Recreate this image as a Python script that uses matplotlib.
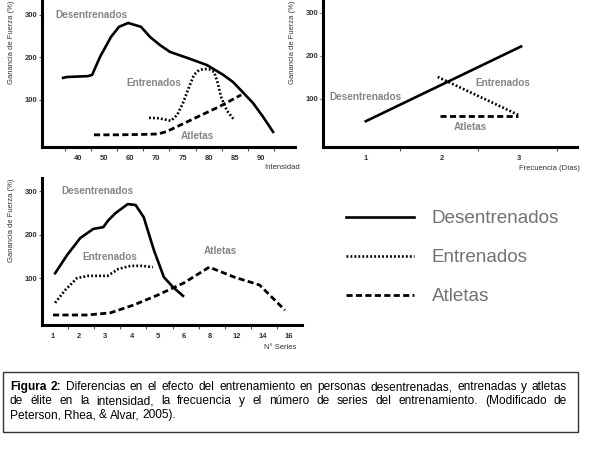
import matplotlib
matplotlib.use('Agg')
import matplotlib.pyplot as plt
from matplotlib.patches import Rectangle

plt.rcParams['font.family'] = ['Liberation Sans', 'DejaVu Sans']

# --- panel 1: intensidad (x = category index) ---
int_labels = ['40', '50', '60', '70', '75', '80', '85', '90']
int_des_x = [-0.57, -0.42, 0.38, 0.54, 0.84, 1.26, 1.57, 1.92, 2.41, 2.76, 3.14, 3.52, 4.18, 4.94, 5.56, 5.94, 6.7, 7.09, 7.47]
int_des_y = [152, 154, 156, 159, 201, 248, 272, 281, 272, 248, 229, 213, 199, 182, 159, 142, 93, 60, 25]
int_ent_x = [2.72, 3.1, 3.56, 3.8, 4.02, 4.25, 4.44, 4.63, 4.83, 5.02, 5.21, 5.35, 5.48, 5.7, 5.98]
int_ent_y = [58, 57, 51, 65, 93, 130, 159, 170, 173, 172, 166, 140, 107, 75, 53]
int_atl_x = [0.61, 1.5, 2.5, 3.07, 3.4, 3.68, 4.5, 5.4, 6.25]
int_atl_y = [18, 18, 19, 20, 26, 34, 58, 84, 112]

# --- panel 2: frecuencia ---
frec_labels = ['1', '2', '3']
frec_des_x = [1.0, 3.03]
frec_des_y = [48, 222]
frec_ent_x = [1.94, 2.99]
frec_ent_y = [151, 63]
frec_atl_x = [1.97, 2.99]
frec_atl_y = [60, 60]

# --- panel 3: numero de series (x = category index) ---
ser_labels = ['1', '2', '3', '4', '5', '6', '8', '12', '14', '16']
ser_des_x = [0.08, 0.54, 1.04, 1.54, 1.92, 2.1, 2.38, 2.85, 3.15, 3.46, 3.85, 4.23, 4.58, 4.96]
ser_des_y = [111, 153, 192, 213, 217, 232, 249, 270, 268, 240, 164, 102, 79, 59]
ser_ent_x = [0.08, 0.46, 0.92, 1.35, 2.08, 2.5, 2.96, 3.4, 3.81]
ser_ent_y = [43, 72, 100, 105, 105, 121, 128, 128, 125]
ser_atl_x = [0, 1.31, 2.19, 3.08, 4.0, 5.0, 5.96, 6.92, 7.88, 8.35, 8.85]
ser_atl_y = [15, 15, 20, 38, 61, 89, 125, 102, 84, 56, 26]

y_ticks = [100, 200, 300]
series_names = ['Desentrenados', 'Entrenados', 'Atletas']

caption_lines = [
    'Figura 2: Diferencias en el efecto del entrenamiento en personas desentrenadas, entrenadas y atletas',
    'de élite en la intensidad, la frecuencia y el número de series del entrenamiento. (Modificado de',
    'Peterson, Rhea, & Alvar, 2005).',
]

GRAY = '#858585'
styles = [dict(color='black', lw=1.9, ls='-'),
          dict(color='black', lw=1.9, ls=(0, (0.7, 0.8))),
          dict(color='black', lw=2.0, ls=(0, (2.2, 1.2)))]

fig = plt.figure(figsize=(6.09, 4.51), dpi=100)


def setup(ax, xlim, ylim, xlabels, xlabel_pos, minor_pos, xtitle, xtitle_pos):
    ax.set_xlim(*xlim)
    ax.set_ylim(*ylim)
    for s in ['top', 'right']:
        ax.spines[s].set_visible(False)
    for s in ['left', 'bottom']:
        ax.spines[s].set_linewidth(2.2)
    ax.set_yticks(y_ticks)
    ax.set_yticklabels([str(v) for v in y_ticks], fontsize=5.5, color='#333333', fontweight='bold')
    ax.tick_params(axis='y', length=2.5, width=0.8, pad=1, color='#555555')
    ax.set_xticks(xlabel_pos)
    ax.set_xticklabels(xlabels, fontsize=5.5, color='#333333', fontweight='bold')
    ax.tick_params(axis='x', which='major', length=0, pad=6)
    ax.set_xticks(minor_pos, minor=True)
    ax.tick_params(axis='x', which='minor', length=3, width=0.8, color='#555555')
    ax.set_ylabel('Ganancia de Fuerza (%)', fontsize=5.5, color='#333333')
    ax.yaxis.set_label_coords(-0.105, 0.71)
    ax.text(xtitle_pos[0], xtitle_pos[1], xtitle, transform=ax.transAxes,
            ha='right', va='center', fontsize=5.5, color='#333333')


def names(ax, positions):
    for name, (x, y) in zip(series_names, positions):
        ax.text(x, y, name, ha='center', va='center', fontsize=7.2,
                fontweight='bold', color=GRAY)


# panel 1
ax1 = fig.add_axes([42 / 609, 1 - 147 / 451, 253 / 609, 147 / 451])
h = []
for (xs, ys), st in zip([(int_des_x, int_des_y), (int_ent_x, int_ent_y), (int_atl_x, int_atl_y)], styles):
    h.append(ax1.plot(xs, ys, **st)[0])
setup(ax1, (-1.38, 8.31), (-10.6, 335), int_labels, list(range(len(int_labels))),
      [i + 0.5 for i in range(-1, 8)], 'Intensidad', (1.02, -0.14))
names(ax1, [(0.5, 300), (2.9, 140), (4.56, 15)])

# panel 2
ax2 = fig.add_axes([323 / 609, 1 - 147 / 451, 254 / 609, 147 / 451])
for (xs, ys), st in zip([(frec_des_x, frec_des_y), (frec_ent_x, frec_ent_y), (frec_atl_x, frec_atl_y)], styles):
    ax2.plot(xs, ys, **st)
setup(ax2, (0.44, 3.76), (-12, 330), frec_labels, [1, 2, 3],
      [1.44, 2.46, 3.5], 'Frecuencia (Días)', (1.01, -0.145))
names(ax2, [(1.0, 105), (2.79, 137), (2.37, 35)])

# panel 3
ax3 = fig.add_axes([42 / 609, 1 - 325 / 451, 260 / 609, 147 / 451])
for (xs, ys), st in zip([(ser_des_x, ser_des_y), (ser_ent_x, ser_ent_y), (ser_atl_x, ser_atl_y)], styles):
    ax3.plot(xs, ys, **st)
setup(ax3, (-0.42, 9.5), (-8, 330), ser_labels, list(range(len(ser_labels))),
      [i + 0.56 for i in range(9)], 'N° Series', (0.98, -0.15))
names(ax3, [(1.68, 300), (2.18, 148), (6.4, 162)])

# legend
leg = fig.legend(h, series_names, loc='upper left', bbox_to_anchor=(329 / 609, 1 - 193 / 451),
                 frameon=False, fontsize=13.6, handlelength=3.6, handletextpad=0.95,
                 labelspacing=1.15, labelcolor='#737373')

# caption box
fig.patches.append(Rectangle((3 / 609, 1 - 432 / 451), 575 / 609, 60 / 451,
                             transform=fig.transFigure, fill=False,
                             edgecolor='#333333', lw=1.0))

fig.canvas.draw()
renderer = fig.canvas.get_renderer()
x_left, x_right = 10, 567
line_y = [390, 404, 418]
for li, line in enumerate(caption_lines):
    words = line.split(' ')
    texts = []
    for wi, w in enumerate(words):
        bold = li == 0 and wi < 2
        t = fig.text(0, 1 - line_y[li] / 451, w, fontsize=8.6, va='baseline', ha='left',
                     fontweight='bold' if bold else 'normal', color='black')
        texts.append(t)
    widths = [t.get_window_extent(renderer).width for t in texts]
    if li < len(caption_lines) - 1:
        gap = (x_right - x_left - sum(widths)) / (len(words) - 1)
    else:
        gap = 3.2
    x = x_left
    for t, w in zip(texts, widths):
        t.set_x(x / 609)
        x += w + gap

fig.savefig('out.png', dpi=100)
